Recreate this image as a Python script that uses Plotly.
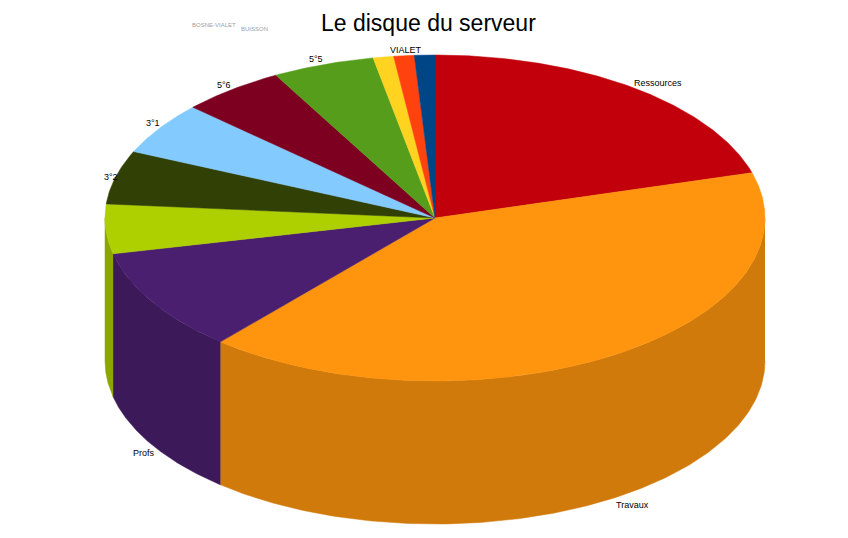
import numpy as np
import plotly.graph_objects as go

slices = ["Ressources", "Travaux", "Profs", "Autre", "3°2", "3°1", "5°6", "5°5", "Jaune", "BUISSON", "VIALET"]
values = [20.5, 40.7, 10.2, 4.9, 5.3, 5.2, 5.1, 5.0, 1.0, 1.0, 1.0]
top_colors = ["#c1000b", "#ff950e", "#4b1f6f", "#aecf00", "#314004", "#83caff", "#7e0021", "#579d1c", "#ffd320", "#ff420e", "#004586"]
side_colors = ["#9a0009", "#d07a0b", "#3c1959", "#8ca600", "#273303", "#69a2cc", "#65001a", "#467e16", "#ccaa1a", "#cc350b", "#00376b"]

CX, CY, RX, RY, DEPTH = 435, 218, 330, 163, 143
PAGE_MARGIN = 8  # the page body offsets the figure by this many pixels

def ex(t):
    return CX + RX * np.sin(t)

def ey(t):
    return CY - RY * np.cos(t)

fig = go.Figure()
total = sum(values)
edges = np.concatenate([[0], np.cumsum(values)]) / total * 2 * np.pi

# side walls: only the front half of the rim (90° to 270°) is visible
for i in range(len(values)):
    a, b = max(edges[i], np.pi / 2), min(edges[i + 1], 3 * np.pi / 2)
    if b <= a:
        continue
    t = np.linspace(a, b, 160)
    xs = np.concatenate([ex(t), ex(t[::-1])])
    ys = np.concatenate([ey(t), ey(t[::-1]) + DEPTH])
    fig.add_trace(go.Scatter(x=xs, y=ys, mode="lines", fill="toself", fillcolor=side_colors[i],
                             line=dict(color=side_colors[i], width=0.5), hoverinfo="skip", showlegend=False))

# top faces
for i in range(len(values)):
    t = np.linspace(edges[i], edges[i + 1], max(12, int(values[i] * 8)))
    xs = np.concatenate([[CX], ex(t), [CX]])
    ys = np.concatenate([[CY], ey(t), [CY]])
    fig.add_trace(go.Scatter(x=xs, y=ys, mode="lines", fill="toself", fillcolor=top_colors[i],
                             line=dict(color=top_colors[i], width=0.5), name=slices[i],
                             text=f"{slices[i]}: {values[i]}", hoverinfo="text", showlegend=False))

labels = [("Ressources", 633, 83, "#000000", 9), ("Travaux", 615, 505, "#000000", 9), ("Profs", 132, 453, "#000000", 9),
          ("3°2", 103, 177, "#000000", 9), ("3°1", 145, 123, "#000000", 9), ("5°6", 216, 85, "#000000", 9),
          ("5°5", 308, 59, "#000000", 9), ("VIALET", 389, 50, "#000000", 9),
          ("BOSNE-VIALET", 191, 24.5, "#a0a0a0", 6), ("BUISSON", 240, 29, "#a0a0a0", 6)]
annotations = [dict(x=x, y=y, xref="x", yref="y", text=s, showarrow=False, xanchor="left", yanchor="middle",
                    xshift=-1, font=dict(family="Liberation Sans", size=sz, color=c))
               for s, x, y, c, sz in labels]
annotations.append(dict(x=428, y=23, xref="x", yref="y", text="Le disque du serveur", showarrow=False,
                        xanchor="center", yanchor="middle",
                        font=dict(family="Liberation Sans", size=23, color="#000000")))

fig.update_layout(width=848, height=538, margin=dict(l=0, r=0, t=0, b=0),
                  paper_bgcolor="white", plot_bgcolor="white", annotations=annotations,
                  xaxis=dict(range=[PAGE_MARGIN, 848 + PAGE_MARGIN], visible=False, fixedrange=True),
                  yaxis=dict(range=[538 + PAGE_MARGIN, PAGE_MARGIN], visible=False, fixedrange=True))
fig.write_html("out.html", config=dict(displayModeBar=False))
